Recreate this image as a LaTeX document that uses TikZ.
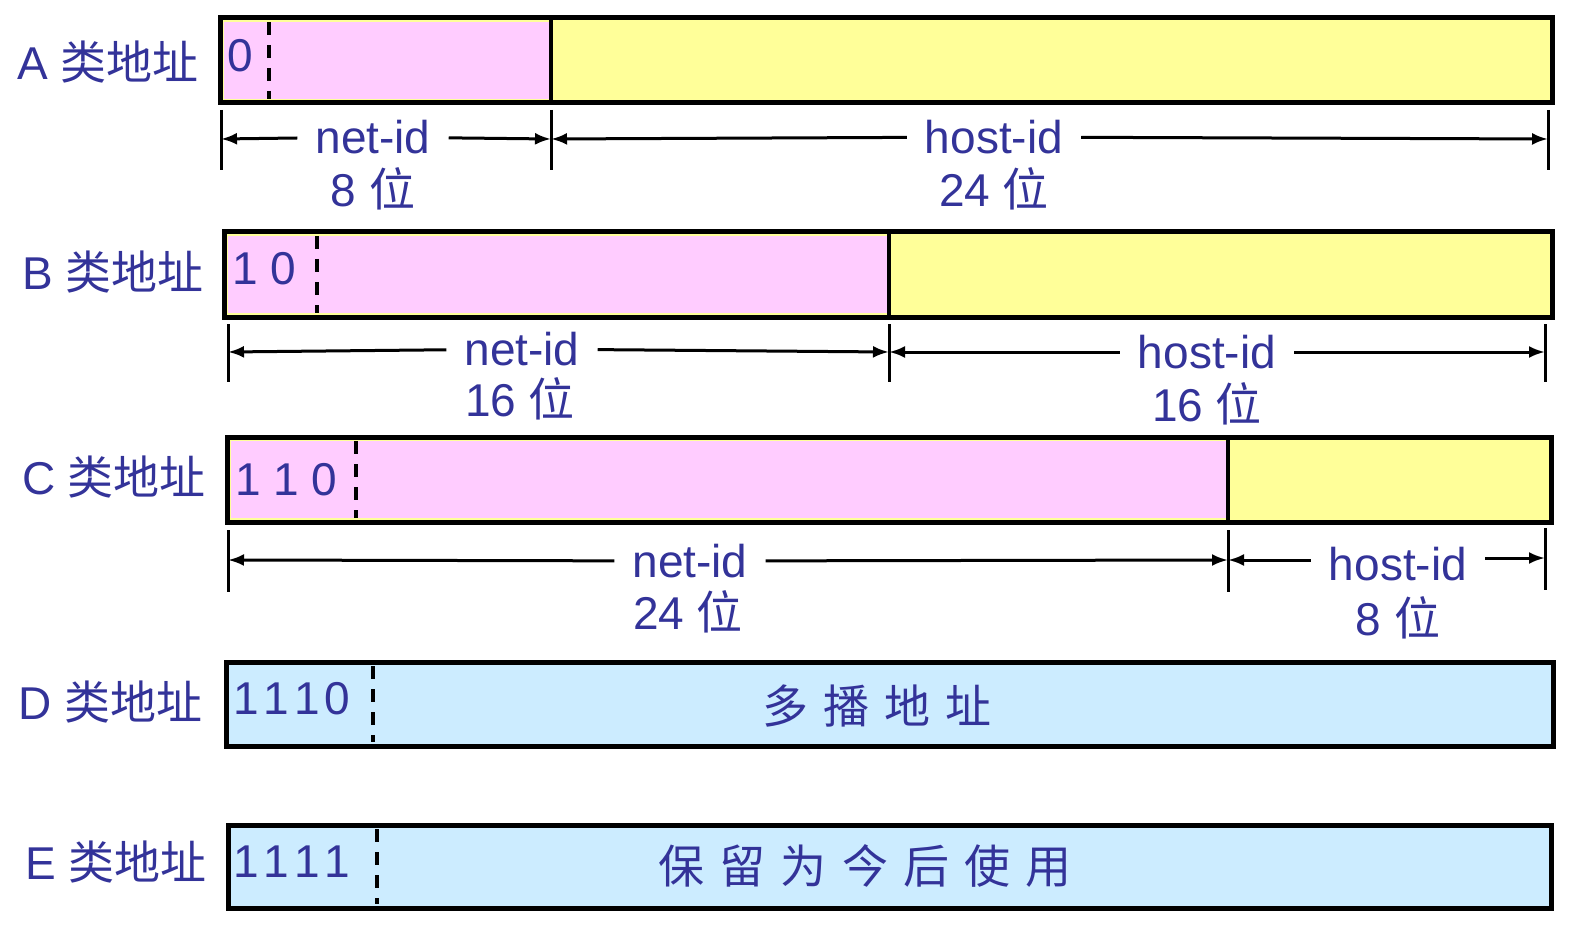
\documentclass[tikz,border=0pt]{standalone}
\usepackage{fontspec}
\setmainfont{Liberation Sans}
\newfontfamily\cjk{Noto Sans CJK SC}
\usetikzlibrary{arrows.meta}
\definecolor{txtblue}{RGB}{51,51,153}
\definecolor{netpink}{RGB}{255,204,255}
\definecolor{hostyellow}{RGB}{255,255,153}
\definecolor{mcblue}{RGB}{204,236,255}
\newcommand\zh[1]{{\cjk #1}}
\newcommand\gap{\hspace{.33em}}

\begin{document}
\begin{tikzpicture}[x=1pt,y=-1pt]
        \tikzset{lbl/.style = {text=txtblue,font=\fontsize{46}{50}\selectfont,inner sep=0pt}};
        \tikzset{bits/.style = {text=txtblue,font=\fontsize{46}{50}\selectfont,inner sep=0pt,anchor=west}};
        \tikzset{dimtext/.style = {text=txtblue,font=\fontsize{46}{50}\selectfont,inner xsep=18pt,inner ysep=0pt}};
        \tikzset{frame/.style = {draw,line width=5pt}};
        \tikzset{split/.style = {line width=4pt}};
        \tikzset{cut/.style = {line width=4.5pt,dash pattern=on 13pt off 10pt}};
        \tikzset{tick/.style = {line width=3pt}};
        \tikzset{edge/.style = {line width=3pt,-{Latex[length=16pt,width=12pt]}}};
        \useasboundingbox (0,0) rectangle (1572,928);
        % class A
        \fill[hostyellow] (220,18) rectangle (1552,103);
        \fill[netpink] (224,22) rectangle (551,99);
        \draw[frame] (220,18) rectangle (1552,103);
        \draw[split] (551,18) -- (551,103);
        \draw[cut] (269,22) -- (269,99);
        \node[lbl] (labA) at (108,62) {A \zh{类地址}};
        \node[bits] (bitA) at (227,56) {0};
        % class B
        \fill[hostyellow] (224,232) rectangle (1552,317);
        \fill[netpink] (228,236) rectangle (889,313);
        \draw[frame] (224,232) rectangle (1552,317);
        \draw[split] (889,232) -- (889,317);
        \draw[cut] (317,236) -- (317,313);
        \node[lbl] (labB) at (113,272) {B \zh{类地址}};
        \node[bits] (bitB) at (232,269) {1 0};
        % class C
        \fill[hostyellow] (227,437) rectangle (1551,522);
        \fill[netpink] (231,441) rectangle (1228,518);
        \draw[frame] (227,437) rectangle (1551,522);
        \draw[split] (1228,437) -- (1228,522);
        \draw[cut] (356,441) -- (356,518);
        \node[lbl] (labC) at (114,477) {C \zh{类地址}};
        \node[bits] (bitC) at (235,480) {1 1 0};
        % class D
        \filldraw[frame,fill=mcblue] (226,662) rectangle (1553,746);
        \draw[cut] (373,666) -- (373,742);
        \node[lbl] (labD) at (111,702) {D \zh{类地址}};
        \node[bits] (bitD) at (233,699) {1\kern5pt1\kern5pt1\kern5pt0};
        \node[lbl] (useD) at (877,706) {\zh{多\gap 播\gap 地\gap 址}};
        % class E
        \filldraw[frame,fill=mcblue] (228,825) rectangle (1551,908);
        \draw[cut] (377,829) -- (377,904);
        \node[lbl] (labE) at (116,862) {E \zh{类地址}};
        \node[bits] (bitE) at (233,862) {1\kern5pt1\kern5pt1\kern5pt1};
        \node[lbl] (useE) at (865,866) {\zh{保\gap 留\gap 为\gap 今\gap 后\gap 使\gap 用}};
        % widths of A
        \coordinate (tA0) at (221,139);
        \coordinate (tA1) at (551,139);
        \coordinate (tA2) at (1548,139);
        \foreach \t in {tA0,tA1,tA2} \draw[tick] (\t) ++(0,-29) -- ++(0,60);
        \node[dimtext] (netA) at (373,137) {net-id};
        \node[dimtext] (hostA) at (994,137) {host-id};
        \node[lbl] (lenA1) at (373,189) {8 \zh{位}};
        \node[lbl] (lenA2) at (994,189) {24 \zh{位}};
        \draw[edge] (netA) -- (tA0);
        \draw[edge] (netA) -- (tA1);
        \draw[edge] (hostA) -- (tA1);
        \draw[edge] (hostA) -- (tA2);
        % widths of B
        \coordinate (tB0) at (228,352);
        \coordinate (tB1) at (889,352);
        \coordinate (tB2) at (1545,352);
        \foreach \t in {tB0,tB1,tB2} \draw[tick] (\t) ++(0,-28) -- ++(0,58);
        \node[dimtext] (netB) at (522,349) {net-id};
        \node[dimtext] (hostB) at (1207,352) {host-id};
        \node[lbl] (lenB1) at (520,399) {16 \zh{位}};
        \node[lbl] (lenB2) at (1207,404) {16 \zh{位}};
        \draw[edge] (netB) -- (tB0);
        \draw[edge] (netB) -- (tB1);
        \draw[edge] (hostB) -- (tB1);
        \draw[edge] (hostB) -- (tB2);
        % widths of C
        \coordinate (tC0) at (228,560);
        \coordinate (tC1) at (1228,560);
        \coordinate (tC2) at (1545,558);
        \foreach \t in {tC0,tC1,tC2} \draw[tick] (\t) ++(0,-30) -- ++(0,62);
        \node[dimtext] (netC) at (690,561) {net-id};
        \node[dimtext] (hostC) at (1398,564) {host-id};
        \node[lbl] (lenC1) at (688,612) {24 \zh{位}};
        \node[lbl] (lenC2) at (1398,618) {8 \zh{位}};
        \draw[edge] (netC) -- (tC0);
        \draw[edge] (netC) -- (tC1);
        \draw[edge] (hostC.west |- tC1) -- (tC1);
        \draw[edge] (hostC.east |- tC2) -- (tC2);
    \end{tikzpicture}
\end{document}
